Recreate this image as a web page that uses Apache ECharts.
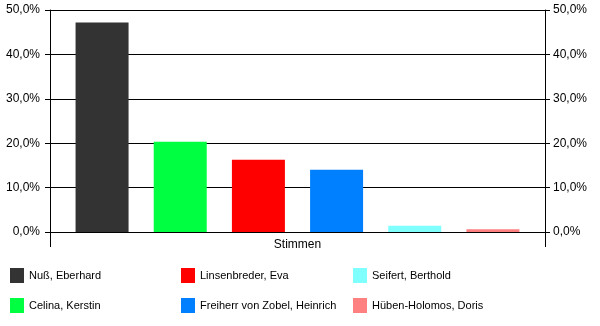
<!DOCTYPE html>
<html><head><meta charset="utf-8">
<script src="https://cdn.jsdelivr.net/npm/echarts@6/dist/echarts.min.js"></script>
<style>html,body{margin:0;padding:0;background:#fff}#c{width:600px;height:326px}</style>
</head><body><div id="c"></div>
<script>
var categories = ['Stimmen'];
var seriesNames = ['Nuß, Eberhard','Celina, Kerstin','Linsenbreder, Eva','Freiherr von Zobel, Heinrich','Seifert, Berthold','Hüben-Holomos, Doris'];
var seriesValues = [47.2, 20.3, 16.3, 14.0, 1.4, 0.6];
var seriesColors = ['#333333','#00FF40','#FF0000','#0080FF','#80FFFF','#FF8080'];
var yTicks = [0, 10, 20, 30, 40, 50];

var font = 'Liberation Sans, Arial, sans-serif';
function fmt(v){ return v.toFixed(1).replace('.', ',') + '%'; }

var series = seriesNames.map(function(n, i){
  return {
    name: n, type: 'bar', yAxisIndex: 0,
    data: [seriesValues[i]],
    barWidth: 53, barGap: '47.5%',
    itemStyle: { color: seriesColors[i] },
    animation: false
  };
});

function legendCol(names, left){
  return {
    data: names.map(function(n){ return {name: n, icon: 'rect'}; }),
    orient: 'vertical', left: left, top: 268, padding: 0,
    itemWidth: 14, itemHeight: 15, itemGap: 15,
    textStyle: { fontFamily: font, fontSize: 11, color: '#000' },
    selectedMode: false
  };
}

function yAxisDef(pos, split, margin){
  return {
    type: 'value', position: pos,
    min: yTicks[0], max: yTicks[yTicks.length-1], interval: 10,
    axisLine: { show: true, lineStyle: { color: '#000', width: 1 } },
    axisTick: { show: true, inside: false, length: 5, lineStyle: { color: '#000' } },
    axisLabel: { formatter: fmt, fontFamily: font, fontSize: 12, color: '#000', margin: margin, inside: false },
    splitLine: { show: split, lineStyle: { color: '#000', width: 1 } }
  };
}

var option = {
  backgroundColor: '#fff',
  animation: false,
  grid: { left: 50, right: 55, top: 10, height: 222, containLabel: false },
  xAxis: {
    type: 'category', data: categories, boundaryGap: true,
    axisLine: { show: true, lineStyle: { color: '#000', width: 1 } },
    axisTick: { show: true, inside: false, length: 15, lineStyle: { color: '#000' } },
    axisLabel: { fontFamily: font, fontSize: 12, color: '#000', margin: 7 }
  },
  yAxis: [ yAxisDef('left', true, 10), yAxisDef('right', false, 8) ],
  legend: [
    legendCol([seriesNames[0], seriesNames[1]], 10),
    legendCol([seriesNames[2], seriesNames[3]], 181),
    legendCol([seriesNames[4], seriesNames[5]], 353)
  ],
  series: series
};
var chart = echarts.init(document.getElementById('c'), null, { renderer: 'canvas' });
chart.setOption(option);
</script></body></html>
